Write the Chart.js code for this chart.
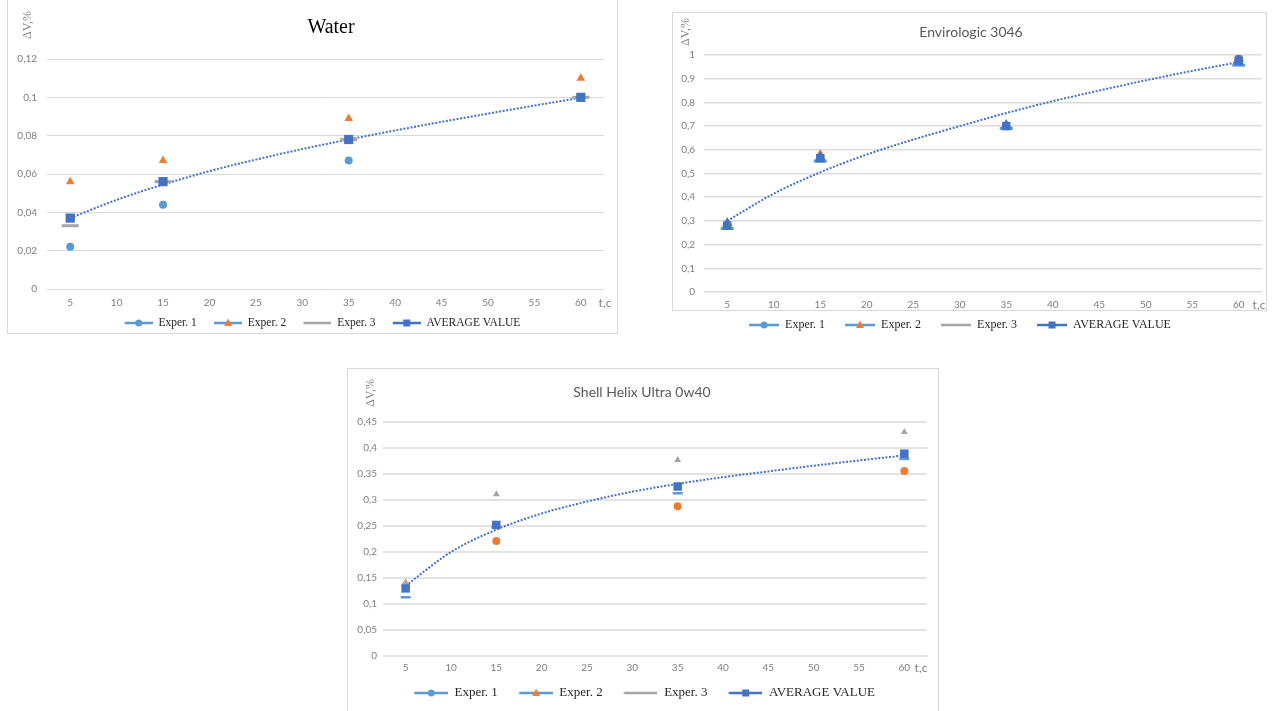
<!DOCTYPE html>
<html>
<head>
<meta charset="utf-8">
<script src="https://cdn.jsdelivr.net/npm/chart.js@4.4.1/dist/chart.umd.min.js"></script>
<style>
  body { margin: 0; background: #fff; width: 1274px; height: 711px; position: relative; overflow: hidden; }
  .frame { position: absolute; border: 1px solid #d9d9d9; }
  canvas { position: absolute; }
</style>
</head>
<body>
<div class="frame" style="left:7px;top:-1px;width:609px;height:333px"></div>
<div class="frame" style="left:672px;top:12px;width:593px;height:297px"></div>
<div class="frame" style="left:347px;top:368px;width:590px;height:360px"></div>
<canvas id="water" width="650" height="345" style="left:0px;top:0px"></canvas>
<canvas id="envir" width="640" height="345" style="left:634px;top:0px"></canvas>
<canvas id="shell" width="610" height="351" style="left:340px;top:360px"></canvas>
<script>
// time points of the measurements, t,c
const times = [5, 15, 35, 60];
// points
const trendTimes = [5, 10, 15, 20, 25, 30, 35, 40, 45, 50, 55, 60];
const xTicks = [5, 10, 15, 20, 25, 30, 35, 40, 45, 50, 55, 60];
const legendNames = ["Exper. 1", "Exper. 2", "Exper. 3", "AVERAGE VALUE"];

// Water
const waterExp1 = [0.022, 0.044, 0.067, 0.1];
const waterExp2 = [0.056, 0.067, 0.089, 0.11];
const waterExp3 = [0.033, 0.056, 0.078, 0.1];
const waterAvg = [0.037, 0.056, 0.078, 0.1];
const waterTrend = [0.037, 0.0465, 0.0545, 0.0615, 0.0675, 0.073, 0.078, 0.0827, 0.0872, 0.0915, 0.0957, 0.0998];
const waterYTicks = [0, 0.02, 0.04, 0.06, 0.08, 0.1, 0.12];

// Envirologic 3046
const envExp1 = [0.29, 0.57, 0.705, 0.985];
const envExp2 = [0.29, 0.58, 0.705, 1.0];
const envExp3 = [0.268, 0.552, 0.69, 0.957];
const envAvg = [0.28, 0.565, 0.7, 0.975];
const envTrend = [0.3, 0.415, 0.505, 0.58, 0.643, 0.7, 0.755, 0.805, 0.85, 0.893, 0.933, 0.97];
const envYTicks = [0, 0.1, 0.2, 0.3, 0.4, 0.5, 0.6, 0.7, 0.8, 0.9, 1];

// Shell Helix Ultra 0w40
const shellExp1 = [0.113, 0.248, 0.313, 0.379];
const shellExp2 = [0.135, 0.221, 0.288, 0.356];
const shellExp3 = [0.142, 0.311, 0.377, 0.431];
const shellAvg = [0.13, 0.252, 0.326, 0.389];
const shellTrend = [0.135, 0.2, 0.243, 0.274, 0.297, 0.316, 0.331, 0.344, 0.355, 0.366, 0.376, 0.386];
const shellYTicks = [0, 0.05, 0.1, 0.15, 0.2, 0.25, 0.3, 0.35, 0.4, 0.45];

const BLUE = "#5B9BD5", ORANGE = "#ED7D31", GRAY = "#A5A5A5", DARKBLUE = "#4472C4";

function pts(xs, ys) {
  return xs.map((x, i) => ({ x: x, y: ys[i] }));
}

// "line + marker" picture for the legend, like Excel draws them.
// gap = empty space on the left, so the items sit further apart
function legendIcon(lineColor, marker, markerColor, w, gap) {
  const c = document.createElement("canvas");
  c.width = w + gap; c.height = 12;
  const g = c.getContext("2d");
  g.strokeStyle = lineColor;
  g.lineWidth = 2.5;
  g.beginPath(); g.moveTo(gap, 6); g.lineTo(gap + w, 6); g.stroke();
  g.fillStyle = markerColor;
  const m = gap + w / 2;
  if (marker == "circle") {
    g.beginPath(); g.arc(m, 6, 3.5, 0, Math.PI * 2); g.fill();
  } else if (marker == "triangle") {
    g.beginPath(); g.moveTo(m, 1.5); g.lineTo(m + 4, 9); g.lineTo(m - 4, 9); g.closePath(); g.fill();
  } else if (marker == "rect") {
    g.fillRect(m - 3.5, 2.5, 7, 7);
  }
  return c;
}

const panelText = {
  id: "panelText",
  afterDraw(chart, args, o) {
    const ctx = chart.ctx;
    ctx.save();
    ctx.textAlign = "center";
    ctx.textBaseline = "middle";
    ctx.fillStyle = o.titleColor;
    ctx.font = o.titleFont;
    ctx.fillText(o.title, o.titleX, o.titleY);
    ctx.fillStyle = "#7f7f7f";
    ctx.font = '12px "Lato"';
    ctx.fillText("t,c", o.tX, o.tY);
    ctx.translate(o.dvX, o.dvY);
    ctx.rotate(-Math.PI / 2);
    ctx.font = '12px "Liberation Serif"';
    ctx.fillText("ΔV,%", 0, 0);
    ctx.restore();
  }
};

function makeChart(id, p) {
  const icons = [
    legendIcon(BLUE, "circle", BLUE, p.iconW, p.iconGap),
    legendIcon(BLUE, "triangle", ORANGE, p.iconW, p.iconGap),
    legendIcon(GRAY, "none", GRAY, p.iconW, p.iconGap),
    legendIcon(DARKBLUE, "rect", DARKBLUE, p.iconW, p.iconGap)
  ];
  const ds = p.series.map((s, i) => ({
    label: legendNames[i],
    data: pts(times, s.data),
    pointStyle: s.style,
    pointRadius: s.r,
    pointHoverRadius: s.r,
    backgroundColor: s.color,
    borderColor: s.color,
    pointBorderWidth: s.style == "line" ? s.bw : 0,
    order: s.order,
    showLine: false
  }));
  ds.push({
    label: "trend",
    data: pts(trendTimes, p.trend),
    showLine: true,
    borderColor: DARKBLUE,
    borderWidth: 2,
    borderDash: [2, 1.6],
    pointRadius: 0,
    cubicInterpolationMode: "monotone",
    order: 10
  });

  return new Chart(document.getElementById(id), {
    type: "scatter",
    data: { datasets: ds },
    options: {
      responsive: false,
      animation: false,
      layout: { padding: p.pad },
      scales: {
        x: {
          type: "linear",
          min: 2.5, max: 62.5,
          afterBuildTicks: (s) => { s.ticks = xTicks.map(v => ({ value: v })); },
          afterFit: (s) => { s.height = p.xH; },
          grid: { display: false, drawTicks: false },
          border: { display: false },
          ticks: { autoSkip: false, maxRotation: 0, padding: p.xPad, color: "#7f7f7f", font: { family: "Lato", size: 10 } }
        },
        y: {
          min: 0, max: p.yTicks[p.yTicks.length - 1],
          afterBuildTicks: (s) => { s.ticks = p.yTicks.map(v => ({ value: v })); },
          afterFit: (s) => { s.width = p.yW; },
          grid: { color: p.gridColor, lineWidth: p.gridW, drawTicks: false },
          border: { display: false },
          ticks: {
            padding: p.yPad, color: "#7f7f7f", font: { family: "Lato", size: 10 },
            callback: (v) => String(v).replace(".", ",")
          }
        },
        // empty right axis, only keeps room so the legend can sit where it does in the picture
        yRight: {
          position: "right",
          afterFit: (s) => { s.width = p.y2W; },
          grid: { display: false, drawTicks: false },
          border: { display: false },
          ticks: { display: false }
        }
      },
      plugins: {
        tooltip: { enabled: false },
        legend: {
          position: "bottom",
          labels: {
            usePointStyle: true,
            pointStyleWidth: p.iconW + p.iconGap,
            padding: p.legPad,
            color: "#262626",
            font: { family: "Liberation Serif", size: p.legFont },
            generateLabels: () => legendNames.map((t, i) => ({
              text: t, pointStyle: icons[i], fillStyle: "transparent",
              strokeStyle: "transparent", lineWidth: 0, hidden: false,
              datasetIndex: i, fontColor: "#262626"
            }))
          }
        },
        panelText: p.text
      }
    },
    plugins: [panelText]
  });
}

makeChart("water", {
  series: [
    { data: waterExp1, style: "circle", r: 4, color: BLUE, order: 4 },
    { data: waterExp2, style: "triangle", r: 5, color: ORANGE, order: 3 },
    { data: waterExp3, style: "line", r: 8.5, bw: 3, color: GRAY, order: 2 },
    { data: waterAvg, style: "rect", r: 6.5, color: DARKBLUE, order: 1 }
  ],
  trend: waterTrend, yTicks: waterYTicks,
  pad: { left: 0, right: 14, top: 59, bottom: 6.25 },
  yW: 47, y2W: 32, xH: 20, xPad: 8, yPad: 10,
  gridColor: "#d9d9d9", gridW: 1,
  iconW: 28, iconGap: 9, legPad: 8.25, legFont: 11.5,
  text: { title: "Water", titleFont: '20px "Liberation Serif"', titleColor: "#000",
          titleX: 331, titleY: 28, tX: 605, tY: 303, dvX: 28, dvY: 25 }
});

makeChart("envir", {
  series: [
    { data: envExp1, style: "triangle", r: 6, color: DARKBLUE, order: 2 },
    { data: envExp2, style: "triangle", r: 5.5, color: ORANGE, order: 3 },
    { data: envExp3, style: "line", r: 6.5, bw: 3, color: BLUE, order: 4 },
    { data: envAvg, style: "rect", r: 6, color: DARKBLUE, order: 1 }
  ],
  trend: envTrend, yTicks: envYTicks,
  pad: { left: 0, right: 0, top: 55, bottom: 4 },
  yW: 70, y2W: 12, xH: 19, xPad: 7, yPad: 9,
  gridColor: "#dcdcdc", gridW: 1.5,
  iconW: 30, iconGap: 12, legPad: 8, legFont: 12,
  text: { title: "Envirologic 3046", titleFont: '14px "Lato"', titleColor: "#595959",
          titleX: 337, titleY: 32, tX: 625, tY: 305, dvX: 52, dvY: 32 }
});

makeChart("shell", {
  series: [
    { data: shellExp1, style: "line", r: 5, bw: 2.5, color: BLUE, order: 4 },
    { data: shellExp2, style: "circle", r: 4, color: ORANGE, order: 3 },
    { data: shellExp3, style: "triangle", r: 4, color: GRAY, order: 1 },
    { data: shellAvg, style: "rect", r: 6, color: DARKBLUE, order: 2 }
  ],
  trend: shellTrend, yTicks: shellYTicks,
  pad: { left: 0, right: 9.5, top: 62, bottom: 1.5 },
  yW: 43, y2W: 13.5, xH: 18, xPad: 6, yPad: 6,
  gridColor: "#e3e3e3", gridW: 2,
  iconW: 34, iconGap: 8.5, legPad: 12.5, legFont: 13,
  text: { title: "Shell Helix Ultra 0w40", titleFont: '14px "Lato"', titleColor: "#595959",
          titleX: 302, titleY: 32, tX: 581, tY: 308, dvX: 31, dvY: 33 }
});
</script>
</body>
</html>
